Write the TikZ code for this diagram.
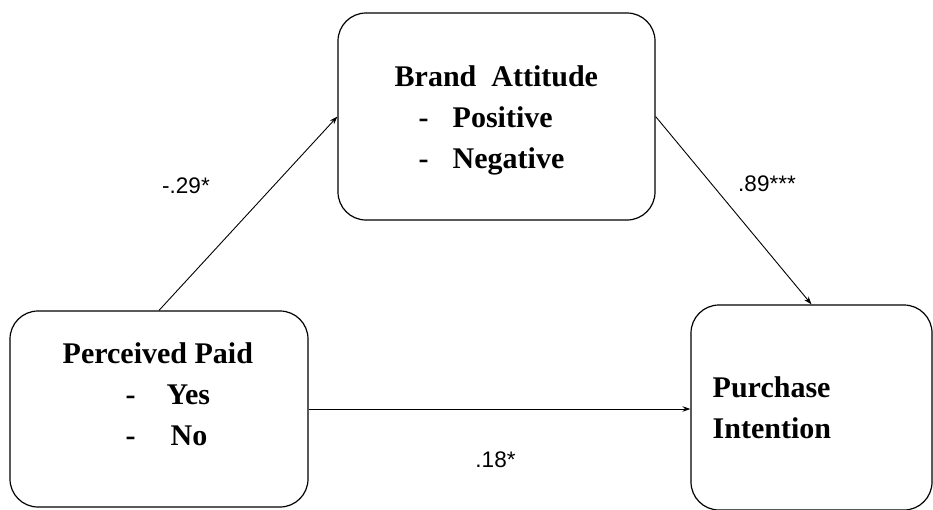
\documentclass[tikz,border=0pt]{standalone}
\usepackage{fontspec}
\setmainfont{Liberation Serif}
\newfontfamily\coeffont{Liberation Sans}
\usetikzlibrary{arrows.meta, positioning}

\begin{document}
\begin{tikzpicture}[
            x=1pt, y=-1pt,
            box/.style={
                rectangle,
                draw,
                rounded corners=28pt,
                line width=1.2pt,
                inner sep=0pt
            },
            boxtext/.style={
                font=\fontsize{30}{41}\selectfont\bfseries,
                align=left,
                inner sep=0pt,
                anchor=north west
            },
            coef/.style={font=\fontsize{22.5}{27}\coeffont},
            arrow/.style={-{Stealth[length=8pt,width=5.5pt]}, line width=0.9pt}
        ]
        \useasboundingbox (0,0) rectangle (933,509);

        % Boxes
        \node[box, minimum width=317pt, minimum height=207pt] (attitude) at (496.5,116.5) {};
        \node[box, minimum width=298pt, minimum height=196pt] (paid) at (159,409) {};
        \node[box, minimum width=241pt, minimum height=205pt] (intention) at (811.5,407.5) {};

        % Box texts
        \node[boxtext] (attitudetext) at (394.5,65.7) {Brand\ \ Attitude\\
            \hspace*{24pt}-\hspace{24pt}Positive\\
            \hspace*{24pt}-\hspace{24pt}Negative};
        \node[boxtext] (paidtext) at (62.5,342.7) {Perceived Paid\\
            \hspace*{63pt}-\hspace{31pt}Yes\\
            \hspace*{63pt}-\hspace{35pt}No};
        \node[boxtext] (intentiontext) at (712.5,376.7) {Purchase\\Intention};

        % Arrows
        \draw[arrow] (paid.north) -- (attitude.west);
        \draw[arrow] (attitude.east) -- (intention.north);
        \draw[arrow] (paid.east) -- (paid.east -| intention.west);

        % Coefficients
        \node[coef] (paidatt) at (186,186) {-.29*};
        \node[coef] (attint) at (767,184) {.89***};
        \node[coef] (paidint) at (495.5,460) {.18*};

\end{tikzpicture}
\end{document}
